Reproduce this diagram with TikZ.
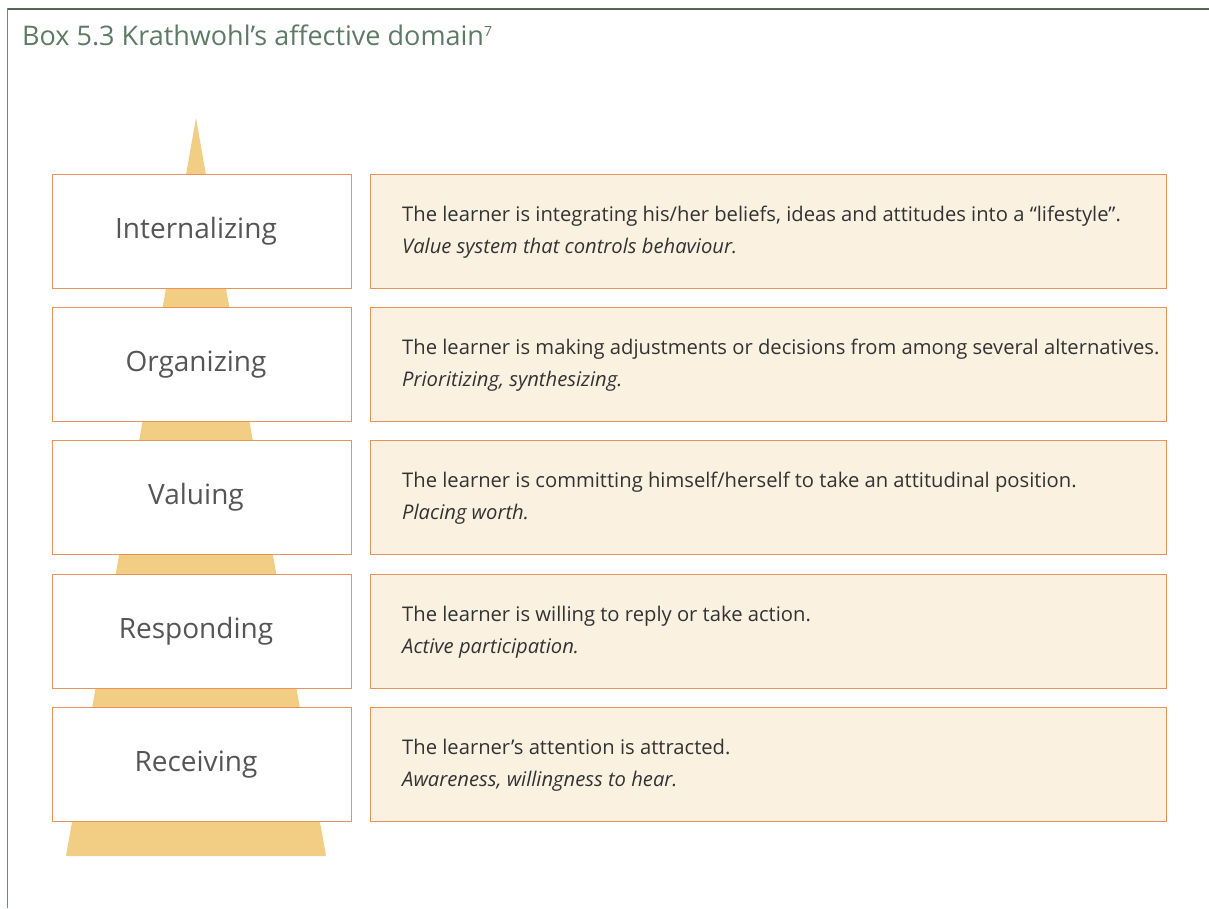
\documentclass[tikz,border=0pt]{standalone}
\usepackage{fontspec}
\setmainfont{Open Sans}
\definecolor{framegreen}{HTML}{4F6B55}
\definecolor{titlegreen}{HTML}{5D7A64}
\definecolor{edgeorange}{HTML}{E8935A}
\definecolor{panelfill}{HTML}{FAF1E1}
\definecolor{cone}{HTML}{F2CD84}
\definecolor{labelgrey}{HTML}{555555}
\definecolor{bodygrey}{HTML}{333333}
\begin{document}
\begin{tikzpicture}[x=1pt,y=-1pt,
  levelbox/.style={draw=edgeorange,line width=1pt,fill=white,minimum width=299pt,minimum height=114pt,
    anchor=north west,inner sep=0pt},
  leveltext/.style={text=labelgrey,font=\fontsize{28}{32}\selectfont,inner sep=0pt},
  descbox/.style={draw=edgeorange,line width=1pt,fill=panelfill,minimum width=796pt,minimum height=114pt,
    anchor=north west,inner sep=0pt},
  desctext/.style={anchor=west,text=bodygrey,font=\fontsize{20.2}{32}\selectfont,align=left,inner sep=0pt}]
\useasboundingbox (0,0) rectangle (1209,908);
% frame
\draw[framegreen,line width=2pt] (7,9) -- (1209,9);
\draw[framegreen!80,line width=1.3pt] (7.5,8) -- (7.5,908);
\node[anchor=base west,text=titlegreen,font=\fontsize{27}{30}\selectfont,inner sep=0pt] (title) at (22,45)
  {Box 5.3 Krathwohl’s affective domain\raisebox{9pt}{\fontsize{14}{14}\selectfont 7}};
% cone behind the levels
\fill[cone] (196,118) -- (326,856) -- (66,856) -- cycle;
% levels
\foreach \name/\y/\lbl in {int/174/Internalizing, org/307/Organizing, val/440/Valuing, res/574/Responding, rec/707/Receiving}{
  \node[levelbox] (\name) at (52,\y) {};
  \node[leveltext] (\name-lbl) at ([xshift=-6pt]\name.center) {\lbl};
}
\node[descbox] (dint) at (370,174) {};
\node[descbox] (dorg) at (370,307) {};
\node[descbox] (dval) at (370,440) {};
\node[descbox] (dres) at (370,574) {};
\node[descbox] (drec) at (370,707) {};
\node[desctext] (tint) at ([xshift=32pt,yshift=-1pt]dint.west)
  {The learner is integrating his/her beliefs, ideas and attitudes into a “lifestyle”.\\\textit{Value system that controls behaviour.}};
\node[desctext] (torg) at ([xshift=32pt,yshift=-1pt]dorg.west)
  {The learner is making adjustments or decisions from among several alternatives.\\\textit{Prioritizing, synthesizing.}};
\node[desctext] (tval) at ([xshift=32pt,yshift=-1pt]dval.west)
  {The learner is committing himself/herself to take an attitudinal position.\\\textit{Placing worth.}};
\node[desctext] (tres) at ([xshift=32pt,yshift=-1pt]dres.west)
  {The learner is willing to reply or take action.\\\textit{Active participation.}};
\node[desctext] (trec) at ([xshift=32pt,yshift=-1pt]drec.west)
  {The learner’s attention is attracted.\\\textit{Awareness, willingness to hear.}};
\end{tikzpicture}
\end{document}
